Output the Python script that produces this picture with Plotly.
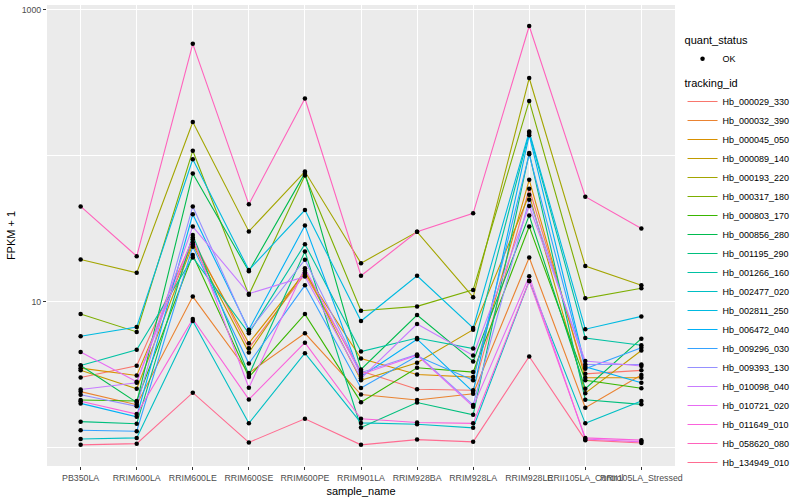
import plotly.graph_objects as go

samples = ["PB350LA", "RRIM600LA", "RRIM600LE", "RRIM600SE", "RRIM600PE",
           "RRIM901LA", "RRIM928BA", "RRIM928LA", "RRIM928LE",
           "RRII105LA_Control", "RRII105LA_Stressed"]

tracking_ids = ["Hb_000029_330", "Hb_000032_390", "Hb_000045_050", "Hb_000089_140",
                "Hb_000193_220", "Hb_000317_180", "Hb_000803_170", "Hb_000856_280",
                "Hb_001195_290", "Hb_001266_160", "Hb_002477_020", "Hb_002811_250",
                "Hb_006472_040", "Hb_009296_030", "Hb_009393_130", "Hb_010098_040",
                "Hb_010721_020", "Hb_011649_010", "Hb_058620_080", "Hb_134949_010"]

colors = ["#F8766D", "#EA8331", "#D89000", "#C09B00", "#A3A500", "#7CAE00", "#39B600",
          "#00BB4E", "#00BF7D", "#00C1A3", "#00BFC4", "#00BAE0", "#00B0F6", "#35A2FF",
          "#9590FF", "#C77CFF", "#E76BF3", "#FA62DB", "#FF62BC", "#FF6C91"]

# FPKM + 1 per sample (same order as samples)
hb_000029_330 = [3.01, 3.62, 26.7, 4.78, 15.4, 3.33, 2.50, 2.46, 59.2, 3.19, 3.37]
hb_000032_390 = [2.41, 1.96, 10.8, 3.23, 6.05, 2.30, 2.11, 2.33, 20.0, 1.87, 3.13]
hb_000045_050 = [3.49, 3.11, 25.4, 5.17, 15.8, 4.06, 3.16, 3.03, 68.2, 3.00, 3.00]
hb_000089_140 = [3.37, 2.52, 24.6, 4.46, 16.3, 2.88, 3.80, 6.40, 53.9, 2.35, 4.61]
hb_000193_220 = [19.4, 15.7, 170.0, 30.2, 77.7, 18.3, 30.0, 10.7, 340.0, 17.5, 12.9]
hb_000317_180 = [8.19, 6.18, 108.0, 11.1, 73.0, 8.63, 9.25, 12.0, 237.0, 10.5, 12.3]
hb_000803_170 = [2.11, 2.08, 20.8, 3.03, 8.19, 2.04, 3.51, 3.28, 32.6, 2.88, 2.54]
hb_000856_280 = [3.64, 2.03, 75.3, 16.1, 75.8, 3.42, 8.07, 3.88, 38.9, 2.52, 5.56]
hb_001195_290 = [1.50, 1.45, 28.5, 3.13, 22.0, 1.37, 2.03, 1.67, 104.0, 2.12, 1.97]
hb_001266_160 = [3.64, 4.66, 20.0, 6.05, 24.7, 4.53, 5.62, 4.75, 143.0, 5.62, 5.01]
hb_002477_020 = [1.14, 1.16, 7.34, 1.46, 4.42, 1.47, 1.44, 1.36, 13.8, 1.46, 2.08]
hb_002811_250 = [5.77, 6.68, 94.4, 16.4, 42.3, 7.34, 15.0, 6.58, 146.0, 6.45, 7.90]
hb_006472_040 = [2.00, 1.62, 39.6, 6.40, 33.1, 3.05, 5.51, 2.40, 138.0, 3.57, 2.77]
hb_009296_030 = [1.31, 1.29, 23.7, 3.75, 12.9, 2.55, 4.22, 2.88, 102.0, 3.46, 4.81]
hb_009393_130 = [2.29, 1.91, 44.8, 6.25, 19.3, 3.25, 4.33, 1.95, 49.8, 3.70, 3.70]
hb_010098_040 = [2.49, 2.77, 32.6, 11.3, 14.8, 2.97, 7.00, 4.26, 45.1, 3.90, 3.61]
hb_010721_020 = [4.51, 2.82, 27.4, 2.56, 16.9, 3.16, 4.28, 1.90, 14.9, 1.14, 1.09]
hb_011649_010 = [2.07, 1.69, 7.58, 2.13, 5.22, 1.57, 1.48, 1.46, 13.8, 1.16, 1.12]
hb_058620_080 = [44.8, 20.4, 583.0, 46.3, 246.0, 15.0, 30.0, 40.2, 773.0, 52.2, 31.6]
hb_134949_010 = [1.04, 1.06, 2.37, 1.08, 1.57, 1.04, 1.13, 1.09, 4.19, 1.12, 1.07]

series = [hb_000029_330, hb_000032_390, hb_000045_050, hb_000089_140, hb_000193_220,
          hb_000317_180, hb_000803_170, hb_000856_280, hb_001195_290, hb_001266_160,
          hb_002477_020, hb_002811_250, hb_006472_040, hb_009296_030, hb_009393_130,
          hb_010098_040, hb_010721_020, hb_011649_010, hb_058620_080, hb_134949_010]

y_ticks = [10, 1000]
y_tick_labels = ["10", "1000"]
y_minor = [1, 100]

FONT = "Liberation Sans, Arial, Helvetica, sans-serif"

fig = go.Figure()

for tid, col, vals in zip(tracking_ids, colors, series):
    fig.add_trace(go.Scatter(
        x=samples, y=vals, mode="lines", name=tid,
        line=dict(color=col, width=1.1),
        legend="legend2", showlegend=True, hoverinfo="skip"))

all_x = [s for vals in series for s in samples]
all_y = [v for vals in series for v in vals]
fig.add_trace(go.Scatter(
    x=all_x, y=all_y, mode="markers", name="OK",
    marker=dict(color="black", size=4.5),
    legend="legend", showlegend=True))

fig.update_layout(
    width=800, height=500,
    margin=dict(l=47, r=116, t=5, b=32),
    paper_bgcolor="white", plot_bgcolor="#EBEBEB",
    font=dict(family=FONT, size=9, color="black"),
    legend=dict(
        title=dict(text="quant_status", font=dict(size=11, color="black")),
        x=1.012, xanchor="left", y=0.946, yanchor="top",
        font=dict(size=9, color="black"), bgcolor="rgba(0,0,0,0)",
        itemwidth=30, tracegroupgap=0),
    legend2=dict(
        title=dict(text="tracking_id", font=dict(size=11, color="black")),
        x=1.012, xanchor="left", y=0.853, yanchor="top",
        font=dict(size=9, color="black"), bgcolor="rgba(0,0,0,0)",
        itemwidth=30, tracegroupgap=0),
    xaxis=dict(
        type="category", categoryorder="array", categoryarray=samples,
        range=[-0.6, len(samples) - 0.4],
        tickangle=0, ticks="outside", ticklen=3, tickcolor="#333333", tickwidth=1,
        tickfont=dict(size=8.8, color="#4D4D4D"),
        showgrid=True, gridcolor="white", gridwidth=1.2,
        zeroline=False, showline=False,
        title=dict(text="sample_name", font=dict(size=11, color="black"), standoff=5)),
    yaxis=dict(
        type="log", range=[-0.128, 3.032],
        tickvals=y_ticks, ticktext=y_tick_labels,
        ticks="outside", ticklen=3, tickcolor="#333333", tickwidth=1,
        tickfont=dict(size=8.8, color="#4D4D4D"),
        showgrid=True, gridcolor="white", gridwidth=1.2,
        minor=dict(tickvals=y_minor, showgrid=True, gridcolor="white", gridwidth=0.6, ticks=""),
        zeroline=False, showline=False,
        title=dict(text="FPKM + 1", font=dict(size=11, color="black"), standoff=3)),
    showlegend=True,
)

fig.write_html("out.html", config={"displayModeBar": False},
               post_script="document.body.style.margin='0';")
